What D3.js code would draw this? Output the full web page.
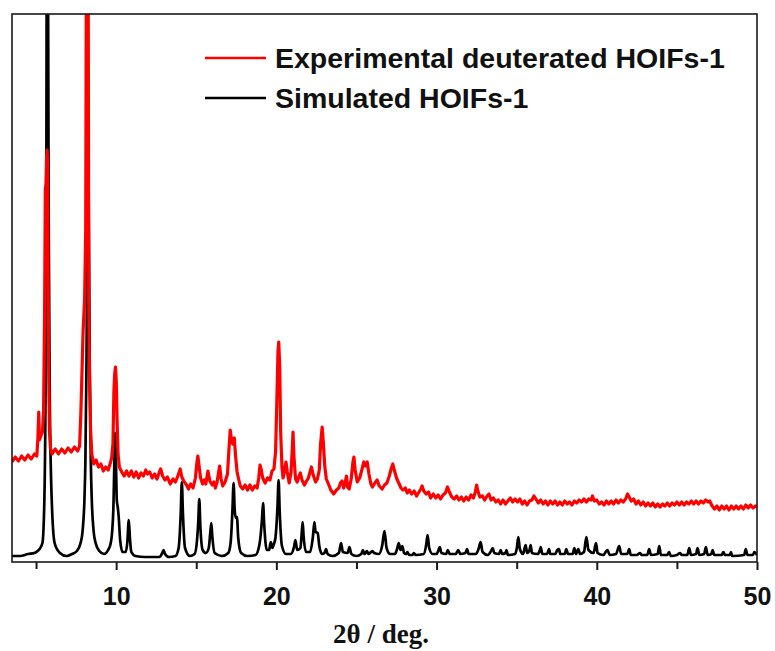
<!DOCTYPE html>
<html><head><meta charset="utf-8">
<script src="https://cdn.jsdelivr.net/npm/d3@7"></script>
<style>body{margin:0;background:#fff}svg{display:block}</style>
</head><body>
<svg id="chart" width="775" height="651"></svg>
<script>
// ---- data (2θ in degrees, intensity in arbitrary units) ----
const seriesNames = ["Experimental deuterated HOIFs-1", "Simulated HOIFs-1"];
const seriesColors = ["#ff0000", "#000000"];
const xMajorTicks = [10, 20, 30, 40, 50];
const xMinorTicks = [5, 15, 25, 35, 45];
const xTitle = "2θ / deg.";

const simulated = [
[3.5,6],[4.0,6],[4.5,8],[4.9,9],[5.1,11],[5.22,13],[5.4,19],[5.52,62],[5.59,162],[5.64,340],[5.67,650],[5.69,1000],[5.74,650],[5.79,340],[5.86,162],[5.98,62],[6.16,19],[6.49,9],[6.9,6],
[7.25,8],[7.55,11],[7.78,19],[7.9,30],[8.02,62],[8.08,100],[8.15,200],[8.2,330],[8.25,420],[8.3,330],[8.35,200],[8.42,100],[8.48,62],[8.6,30],[8.72,19],[8.95,11],[9.25,8],
[9.5,12],[9.65,18],[9.75,30],[9.83,55],[9.89,100],[9.94,129],[9.99,100],[10.04,62],[10.1,55],[10.16,45],[10.25,22],[10.4,10],[10.6,10],[10.7,20],[10.79,42],[10.86,24],[10.95,10],[11.2,6],[11.8,5],
[12.7,5],[12.88,9],[12.96,12],[13.05,8],[13.3,5],[13.7,6],[13.9,14],[14.03,48],[14.1,80],[14.17,48],[14.3,14],[14.6,6],[14.9,8],[15.05,22],[15.13,42],[15.19,63],[15.25,38],[15.4,12],[15.6,9],
[15.78,14],[15.88,30],[15.94,39],[16.0,26],[16.15,9],[16.6,6],[17.0,9],[17.15,20],[17.26,52],[17.33,79],[17.4,52],[17.47,44],[17.54,45],[17.62,24],[17.8,9],[18.2,6],[18.7,7],
[18.95,18],[19.1,42],[19.17,59],[19.24,38],[19.4,12],[19.55,12],[19.65,20],[19.75,14],[19.85,18],[19.95,25],[20.07,55],[20.14,82],[20.21,50],[20.35,16],[20.6,8],[20.9,8],
[21.1,15],[21.19,22],[21.3,12],[21.5,14],[21.58,28],[21.64,40],[21.7,26],[21.85,10],[22.1,10],[22.28,25],[22.375,40],[22.45,30],[22.58,29],[22.68,16],[22.85,8],
[23.0,9],[23.1,13],[23.2,8],[23.5,6],[23.9,9],[24.04,19],[24.15,10],[24.45,9],[24.56,15],[24.68,8],[25.0,6],[25.3,8],[25.4,12],[25.5,8],[25.65,11],[25.75,8],[26.0,11],[26.1,9],
[26.4,8],[26.6,16],[26.75,31],[26.88,14],[27.1,8],[27.4,8],[27.55,14],[27.64,19],[27.75,12],[27.86,16],[27.97,9],[28.1,8],[28.17,10],[28.3,7],[28.5,7],[28.58,9],[28.7,7],
[29.2,8],[29.36,18],[29.44,27],[29.54,14],[29.75,8],[30.0,8],[30.1,11],[30.2,15],[30.3,9],[30.6,8],[30.7,12],[30.82,8],[31.2,8],[31.35,12],[31.48,8],[31.8,9],[31.9,13],[32.0,8],
[32.45,8],[32.62,13],[32.75,20],[32.87,10],[33.2,7],[33.4,11],[33.5,14],[33.6,9],[33.9,8],[34.0,12],[34.1,8],[34.3,9],[34.36,12],[34.45,7],[34.9,8],[35.02,15],[35.1,25],[35.2,13],
[35.4,8],[35.5,14],[35.56,17],[35.65,9],[35.8,12],[35.875,17],[35.95,9],[36.3,8],[36.45,12],[36.5,15],[36.6,8],[36.9,8],[37.02,13],[37.1,8],[37.4,8],[37.54,12],[37.64,13],[37.72,8],
[38.0,8],[38.1,13],[38.2,8],[38.5,8],[38.6,14],[38.7,8],[38.85,13],[38.95,8],[39.2,10],[39.35,25],[39.48,12],[39.8,9],[39.95,19],[40.05,9],[40.4,7],[40.67,12],[40.8,7],
[41.2,8],[41.4,16],[41.52,8],[41.9,8],[42.02,13],[42.12,7],[42.5,7],[42.7,9],[42.8,7],[43.15,7],[43.27,13],[43.38,7],[43.8,8],[43.9,16],[44.0,7],[44.4,7],[44.52,10],[44.62,6],
[45.0,7],[45.2,9],[45.3,7],[45.65,7],[45.77,14],[45.88,7],[46.2,8],[46.29,14],[46.4,7],[46.7,8],[46.81,15],[46.92,7],[47.15,8],[47.23,12],[47.33,7],[47.8,7],[47.9,10],[48.0,7],
[48.3,7],[48.375,10],[48.45,6],[49.2,7],[49.3,13],[49.4,7],[49.75,7],[49.83,10],[50,7]
];

const experimental = [
[3.5,100],[3.7,105],[3.9,101],[4.1,106],[4.3,102],[4.5,107],[4.7,103],[4.9,108],[5.05,106],[5.12,125],[5.17,150],[5.21,122],[5.3,126],[5.4,130],[5.47,150],[5.53,240],[5.58,372],[5.62,378],
[5.66,405],[5.69,412],[5.72,400],[5.75,300],[5.79,190],[5.84,130],[5.9,114],[6.0,108],[6.2,113],[6.4,108],[6.6,113],[6.8,109],[7.0,114],[7.2,110],[7.4,115],[7.6,111],[7.72,116],
[7.8,150],[7.86,185],[7.94,232],[8.03,262],[8.1,330],[8.15,650],[8.2,700],[8.25,650],[8.29,262],[8.34,180],[8.4,135],[8.48,108],[8.6,98],[8.75,102],[8.9,95],[9.05,98],[9.2,91],
[9.35,95],[9.5,92],[9.62,98],[9.72,104],[9.8,118],[9.86,170],[9.91,188],[9.96,195],[10.01,180],[10.06,140],[10.12,108],[10.2,95],[10.35,90],[10.5,86],[10.65,91],[10.8,86],[10.95,91],
[11.1,85],[11.25,90],[11.4,84],[11.55,89],[11.7,86],[11.85,92],[11.95,88],[12.1,90],[12.25,84],[12.4,88],[12.55,83],[12.7,90],[12.78,93],[12.9,86],[13.05,82],[13.2,85],[13.375,78],
[13.55,83],[13.7,80],[13.85,86],[14.0,93],[14.1,85],[14.25,80],[14.4,77],[14.52,73],[14.65,78],[14.8,74],[14.95,84],[15.03,98],[15.1,106],[15.17,97],[15.27,84],[15.4,78],[15.5,82],
[15.6,78],[15.73,91],[15.85,81],[16.0,77],[16.1,80],[16.19,74],[16.3,80],[16.4,90],[16.46,96],[16.55,83],[16.65,76],[16.8,80],[16.95,88],[17.05,115],[17.12,132],[17.2,122],[17.28,118],
[17.375,124],[17.46,105],[17.55,90],[17.66,82],[17.75,76],[17.9,73],[18.05,77],[18.2,72],[18.35,77],[18.5,72],[18.65,76],[18.8,74],[18.9,84],[18.98,97],[19.06,92],[19.15,84],[19.3,79],
[19.45,84],[19.6,82],[19.73,91],[19.85,93],[19.95,110],[20.03,160],[20.1,210],[20.15,220],[20.21,195],[20.27,130],[20.35,95],[20.42,84],[20.52,92],[20.6,100],[20.68,90],[20.8,79],
[20.92,90],[21.0,115],[21.04,130],[21.1,105],[21.2,83],[21.3,80],[21.42,86],[21.5,89],[21.6,82],[21.75,77],[21.85,80],[22.0,84],[22.1,90],[22.19,95],[22.3,87],[22.45,80],[22.56,83],
[22.68,92],[22.76,118],[22.86,135],[22.93,120],[23.02,96],[23.12,83],[23.25,78],[23.4,72],[23.58,68],[23.75,72],[23.9,74],[24.0,79],[24.1,81],[24.2,74],[24.3,80],[24.375,86],[24.45,75],
[24.55,73],[24.68,84],[24.78,100],[24.84,105],[24.92,92],[25.05,80],[25.2,84],[25.35,93],[25.46,100],[25.56,96],[25.67,100],[25.78,88],[25.9,78],[26.0,75],[26.15,79],[26.29,82],
[26.42,76],[26.6,73],[26.75,77],[26.9,79],[27.05,86],[27.18,94],[27.27,98],[27.36,92],[27.5,84],[27.64,79],[27.78,74],[27.9,72],[28.05,74],[28.17,69],[28.3,72],[28.45,68],[28.6,71],
[28.75,66],[28.9,70],[29.02,73],[29.1,76],[29.2,71],[29.35,68],[29.5,70],[29.625,64],[29.8,68],[29.95,64],[30.1,67],[30.25,63],[30.4,67],[30.55,69],[30.68,75],[30.8,70],[30.95,65],
[31.1,63],[31.25,66],[31.4,62],[31.55,65],[31.7,61],[31.85,65],[32.0,62],[32.15,67],[32.3,64],[32.42,70],[32.5,77],[32.58,71],[32.7,65],[32.86,66],[33.0,62],[33.15,66],[33.27,68],
[33.4,62],[33.55,64],[33.7,60],[33.85,62],[34.0,58],[34.15,62],[34.3,58],[34.45,61],[34.6,64],[34.75,60],[34.9,63],[35.05,60],[35.2,63],[35.35,58],[35.5,61],[35.65,57],[35.8,61],
[35.95,62],[36.08,66],[36.2,63],[36.35,59],[36.5,62],[36.65,58],[36.8,61],[36.95,57],[37.1,61],[37.25,58],[37.4,61],[37.55,57],[37.7,60],[37.85,57],[38.0,61],[38.15,58],[38.3,60],
[38.45,57],[38.6,61],[38.75,59],[38.9,62],[39.05,60],[39.2,63],[39.35,60],[39.5,63],[39.65,62],[39.73,66],[39.85,61],[40.0,62],[40.15,58],[40.3,60],[40.45,57],[40.6,61],[40.75,58],
[40.9,61],[41.05,58],[41.2,62],[41.35,59],[41.5,62],[41.65,60],[41.8,63],[41.92,68],[42.02,65],[42.15,61],[42.3,63],[42.45,58],[42.6,61],[42.75,57],[42.9,60],[43.05,56],[43.2,59],
[43.35,56],[43.5,59],[43.65,55],[43.8,58],[43.95,55],[44.1,58],[44.25,56],[44.4,59],[44.55,56],[44.7,59],[44.85,57],[45.0,60],[45.15,57],[45.3,60],[45.45,57],[45.6,60],[45.75,58],
[45.9,61],[46.05,58],[46.2,61],[46.35,58],[46.5,61],[46.65,59],[46.8,62],[46.95,60],[47.05,61],[47.2,56],[47.35,53],[47.5,56],[47.65,52],[47.8,56],[47.95,53],[48.1,56],[48.25,52],
[48.4,56],[48.55,53],[48.7,56],[48.85,53],[49.0,56],[49.15,53],[49.3,57],[49.45,54],[49.6,57],[49.75,54],[49.9,56],[50.0,55]
];

// ---- layout ----
const plotL = 12, plotR = 757, plotT = 14, plotB = 562;
const svg = d3.select("#chart");
const x = d3.scaleLinear().domain([3.5, 50]).range([plotL, plotR]);
const y = d3.scaleLinear().domain([0, 548]).range([plotB, plotT]);

svg.append("defs").append("clipPath").attr("id", "plotclip")
  .append("rect").attr("x", plotL).attr("y", plotT).attr("width", plotR - plotL).attr("height", plotB - plotT);

const g = svg.append("g").attr("clip-path", "url(#plotclip)");

g.append("path").datum(simulated)
  .attr("fill", "none").attr("stroke", seriesColors[1]).attr("stroke-width", 2.7)
  .attr("stroke-linejoin", "round")
  .attr("d", d3.line().x(d => x(d[0])).y(d => y(d[1])).curve(d3.curveMonotoneX));

g.append("path").datum(experimental)
  .attr("fill", "none").attr("stroke", seriesColors[0]).attr("stroke-width", 3.2)
  .attr("stroke-linejoin", "round")
  .attr("d", d3.line().x(d => x(d[0])).y(d => y(d[1])));

// frame
svg.append("rect").attr("x", plotL).attr("y", plotT).attr("width", plotR - plotL).attr("height", plotB - plotT)
  .attr("fill", "none").attr("stroke", "#1a1a1a").attr("stroke-width", 1.6);

// x axis
const axMajor = svg.append("g").attr("transform", `translate(0,${plotB})`)
  .call(d3.axisBottom(x).tickValues(xMajorTicks).tickSize(8).tickFormat(d3.format("d")));
const axMinor = svg.append("g").attr("transform", `translate(0,${plotB})`)
  .call(d3.axisBottom(x).tickValues(xMinorTicks).tickSize(7).tickFormat(""));
[axMajor, axMinor].forEach(a => {
  a.select(".domain").remove();
  a.selectAll(".tick line").attr("stroke", "#1a1a1a").attr("stroke-width", 2);
});
axMajor.selectAll(".tick text")
  .attr("font-family", "'Liberation Sans', Arial, sans-serif")
  .attr("font-weight", "bold").attr("font-size", 25).attr("fill", "#111")
  .attr("dy", null).attr("y", 43);

svg.append("text").attr("x", 381).attr("y", 643).attr("text-anchor", "middle")
  .attr("font-family", "'Liberation Serif', 'Times New Roman', serif")
  .attr("font-weight", "bold").attr("font-size", 27).attr("fill", "#111")
  .text(xTitle);

// legend
[0, 1].forEach(i => {
  const ly = 58 + i * 40;
  svg.append("line").attr("x1", 205).attr("x2", 266).attr("y1", ly).attr("y2", ly)
    .attr("stroke", seriesColors[i]).attr("stroke-width", 2.6);
  svg.append("text").attr("x", 275).attr("y", ly + 10)
    .attr("font-family", "'Liberation Sans', Arial, sans-serif")
    .attr("font-weight", "bold").attr("font-size", 28.5).attr("fill", "#111")
    .text(seriesNames[i]);
});
</script>
</body></html>
